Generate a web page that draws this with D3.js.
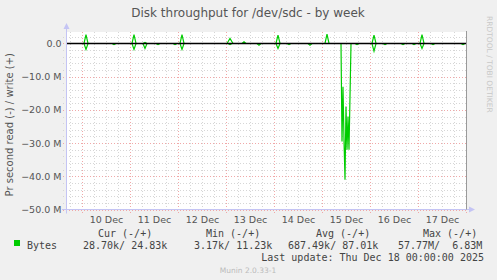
<!DOCTYPE html>
<html>
<head>
<meta charset="utf-8">
<script src="https://cdn.jsdelivr.net/npm/d3@7"></script>
<style>
  body { margin: 0; background: #f0f0f0; }
  svg { display: block; }
  text { fill: #555; }
</style>
</head>
<body>
<div id="chart"></div>
<script>
// hours after 9 Dec 2025 16:00, values in MB/s (write +, read -)
var writeHours = [0, 9, 10, 11, 33, 34, 35, 38.5, 39.5, 40.5, 57, 58, 59, 80.5, 82, 83.5, 88, 89, 90,
  105, 106, 107, 129.5, 130.5, 131.5, 153, 154, 155, 177, 178, 179, 200];
var writeValues = [0, 0, 2.7, 0, 0, 2.7, 0, 0, 0.3, 0, 0, 2.7, 0, 0, 1.5, 0, 0, 0.5, 0,
  0, 2.5, 0, 0, 2.8, 0, 0, 2.5, 0, 0, 2.7, 0, 0];

var readHours = [0, 9, 10, 11, 23, 24, 25, 33, 34, 35, 38.5, 39.5, 40.5, 45, 46, 47, 53.5, 54.5, 55.5,
  57, 58, 59, 81, 82, 83, 95.5, 96.5, 97.5, 105, 106, 107, 110.5, 111.5, 112.5, 121, 122, 123,
  137.5, 138, 138.5, 139, 139.5, 140, 140.5, 141, 141.5, 142, 142.5,
  144.5, 145.5, 146.5, 153, 154, 155, 158.5, 159.5, 160.5, 167.5, 168.5, 169.5, 173, 174, 175,
  177, 178, 179, 182.5, 183.5, 184.5, 197.5, 198.5, 199.5, 200];
var readValues = [0, 0, -1.8, 0, 0, -0.3, 0, 0, -1.8, 0, 0, -1.5, 0, 0, -0.3, 0, 0, -0.3, 0,
  0, -1.8, 0, 0, -0.3, 0, 0, -0.5, 0, 0, -1.5, 0, 0, -0.3, 0, 0, -0.5, 0,
  0, -29.5, -13, -29, -41, -19, -32, -22, -32, -16, 0,
  0, -0.3, 0, 0, -2.3, 0, 0, -0.3, 0, 0, -0.3, 0, 0, -0.3, 0,
  0, -1.5, 0, 0, -0.3, 0, 0, -0.3, 0, 0];

var yTicks = [0, -10, -20, -30, -40, -50];
var legendHeads = ["Cur (-/+)", "Min (-/+)", "Avg (-/+)", "Max (-/+)"];
var legendValues = ["28.70k/ 24.83k", "3.17k/ 11.23k", "687.49k/ 87.01k", "57.77M/  6.83M"];

var svgWidth = 497;
var svgHeight = 280;
var plot = { left: 66, right: 466, top: 32, bottom: 209.5 };

var start = new Date(Date.UTC(2025, 11, 9, 16));
var end = new Date(Date.UTC(2025, 11, 18, 0));
var hourToDate = h => new Date(start.getTime() + h * 3600e3);

var svg = d3.select("#chart")
    .append("svg")
    .attr("width", svgWidth)
    .attr("height", svgHeight);

svg.append("rect")
    .attr("width", svgWidth)
    .attr("height", svgHeight)
    .attr("fill", "#f0f0f0");

var x = d3.scaleUtc()
    .domain([start, end])
    .range([plot.left, plot.right]);

var y = d3.scaleLinear()
    .domain([-50, 3.46])
    .range([plot.bottom, plot.top]);

// canvas
svg.append("rect")
    .attr("x", plot.left)
    .attr("y", plot.top)
    .attr("width", plot.right - plot.left)
    .attr("height", plot.bottom - plot.top)
    .attr("fill", "#fff");

// grid
var grid = svg.append("g").attr("shape-rendering", "crispEdges");
var minorY = d3.range(-50, 3.46, 2);
grid.selectAll(".hminor")
    .data(minorY.filter(v => v % 10 !== 0))
    .enter()
    .append("line")
    .attr("x1", plot.left - 3).attr("x2", plot.right)
    .attr("y1", d => Math.round(y(d)) + 0.5).attr("y2", d => Math.round(y(d)) + 0.5)
    .attr("stroke", "#d6d6d6")
    .attr("stroke-dasharray", "1,2");

grid.selectAll(".vminor")
    .data(d3.utcHour.every(6).range(start, end))
    .enter()
    .append("line")
    .attr("x1", d => Math.round(x(d)) + 0.5).attr("x2", d => Math.round(x(d)) + 0.5)
    .attr("y1", plot.top).attr("y2", plot.bottom + 2)
    .attr("stroke", "#d6d6d6")
    .attr("stroke-dasharray", "1,2");

grid.selectAll(".hmajor")
    .data(yTicks)
    .enter()
    .append("line")
    .attr("x1", plot.left - 3).attr("x2", plot.right)
    .attr("y1", d => Math.round(y(d)) + 0.5).attr("y2", d => Math.round(y(d)) + 0.5)
    .attr("stroke", "#f0a8a8")
    .attr("stroke-dasharray", "1,2");

grid.selectAll(".vmajor")
    .data(d3.utcDay.range(d3.utcDay.ceil(start), d3.utcDay.offset(end, 1)))
    .enter()
    .append("line")
    .attr("x1", d => Math.round(x(d)) + 0.5).attr("x2", d => Math.round(x(d)) + 0.5)
    .attr("y1", plot.top).attr("y2", plot.bottom + 3)
    .attr("stroke", "#f0a8a8")
    .attr("stroke-dasharray", "1,2");

// data lines
var line = d3.line()
    .x(d => x(hourToDate(d[0])))
    .y(d => y(d[1]));

svg.append("clipPath").attr("id", "clip")
    .append("rect")
    .attr("x", plot.left).attr("y", plot.top + 1.5)
    .attr("width", plot.right - plot.left).attr("height", plot.bottom - plot.top);

var lines = svg.append("g").attr("clip-path", "url(#clip)");
lines.append("path")
    .datum(readHours.map((h, i) => [h, readValues[i]]))
    .attr("d", line)
    .attr("fill", "none")
    .attr("stroke", "#00cc00")
    .attr("stroke-width", 1.2);
lines.append("path")
    .datum(writeHours.map((h, i) => [h, writeValues[i]]))
    .attr("d", line)
    .attr("fill", "none")
    .attr("stroke", "#00cc00")
    .attr("stroke-width", 1.2);

// zero rule
svg.append("line")
    .attr("x1", plot.left).attr("x2", plot.right)
    .attr("y1", y(0)).attr("y2", y(0))
    .attr("stroke", "#000")
    .attr("stroke-width", 1.6);

// axes lines with arrows
var axisColor = "#c4c4f4";
svg.append("line")
    .attr("x1", plot.left - 4).attr("x2", plot.right + 4)
    .attr("y1", plot.bottom).attr("y2", plot.bottom)
    .attr("stroke", axisColor);
svg.append("path")
    .attr("d", `M${plot.right + 3},${plot.bottom - 3}L${plot.right + 9},${plot.bottom}L${plot.right + 3},${plot.bottom + 3}Z`)
    .attr("fill", axisColor);
svg.append("line")
    .attr("x1", plot.left + 0.5).attr("x2", plot.left + 0.5)
    .attr("y1", plot.bottom + 4).attr("y2", plot.top - 4)
    .attr("stroke", axisColor);
svg.append("path")
    .attr("d", `M${plot.left - 2.5},${plot.top - 3}L${plot.left + 0.5},${plot.top - 9}L${plot.left + 3.5},${plot.top - 3}Z`)
    .attr("fill", axisColor);

// right frame
svg.append("line")
    .attr("x1", plot.right + 0.5).attr("x2", plot.right + 0.5)
    .attr("y1", plot.top - 1).attr("y2", plot.bottom)
    .attr("stroke", "#9a9a9a");

// y axis labels
var leftAxis = d3.axisLeft(y)
    .tickValues(yTicks)
    .tickSize(0)
    .tickPadding(4)
    .tickFormat(d => d === 0 ? "0.0" : d3.format(".1f")(d) + " M");
svg.append("g")
    .attr("transform", `translate(${plot.left - 0.5},0)`)
    .call(leftAxis)
    .call(g => g.select(".domain").remove())
    .selectAll("text")
    .attr("font-family", "DejaVu Sans")
    .attr("font-size", "9.5px")
    .attr("fill", "#555");

// x axis labels at noon
var noons = d3.utcDay.range(d3.utcDay.ceil(start), end).map(d => d3.utcHour.offset(d, 12));
var bottomAxis = d3.axisBottom(x)
    .tickValues(noons)
    .tickSize(0)
    .tickPadding(7)
    .tickFormat(d3.utcFormat("%d %b"));
svg.append("g")
    .attr("transform", `translate(0,${plot.bottom})`)
    .call(bottomAxis)
    .call(g => g.select(".domain").remove())
    .selectAll("text")
    .attr("font-family", "DejaVu Sans")
    .attr("font-size", "9.5px")
    .attr("fill", "#555");

// title
svg.append("text")
    .attr("x", 248).attr("y", 17)
    .attr("text-anchor", "middle")
    .attr("font-family", "DejaVu Sans")
    .attr("font-size", "12px")
    .text("Disk throughput for /dev/sdc - by week");

// y label
svg.append("text")
    .attr("transform", `translate(13, ${(plot.top + plot.bottom) / 2 + 4}) rotate(-90)`)
    .attr("text-anchor", "middle")
    .attr("font-family", "DejaVu Sans")
    .attr("font-size", "10px")
    .text("Pr second read (-) / write (+)");

// rrdtool credit
svg.append("text")
    .attr("transform", "translate(487, 16) rotate(90)")
    .attr("font-family", "DejaVu Sans")
    .attr("font-size", "7.5px")
    .style("fill", "#c8c8c8")
    .text("RRDTOOL / TOBI OETIKER");

// legend
var mono = "DejaVu Sans Mono";
var headX = [98, 206, 316, 423];
var valX = [83, 194, 288, 398];
svg.selectAll(".head")
    .data(legendHeads)
    .enter()
    .append("text")
    .attr("x", (d, i) => headX[i]).attr("y", 237)
    .attr("font-family", mono).attr("font-size", "10px")
    .style("white-space", "pre")
    .style("fill", "#444")
    .text(d => d);
svg.selectAll(".val")
    .data(legendValues)
    .enter()
    .append("text")
    .attr("x", (d, i) => valX[i]).attr("y", 249)
    .attr("font-family", mono).attr("font-size", "10px")
    .style("white-space", "pre")
    .style("fill", "#444")
    .text(d => d);
svg.append("rect")
    .attr("x", 14).attr("y", 240).attr("width", 6).attr("height", 6)
    .attr("fill", "#00cc00");
svg.append("text")
    .attr("x", 27).attr("y", 249)
    .attr("font-family", mono).attr("font-size", "10px")
    .style("fill", "#444")
    .text("Bytes");
svg.append("text")
    .attr("x", 484).attr("y", 261)
    .attr("text-anchor", "end")
    .attr("font-family", mono).attr("font-size", "10px")
    .style("fill", "#444")
    .text("Last update: Thu Dec 18 00:00:00 2025");
svg.append("text")
    .attr("x", 248).attr("y", 273)
    .attr("text-anchor", "middle")
    .attr("font-family", "DejaVu Sans")
    .attr("font-size", "7.5px")
    .style("fill", "#bbb")
    .text("Munin 2.0.33-1");
</script>
</body>
</html>
